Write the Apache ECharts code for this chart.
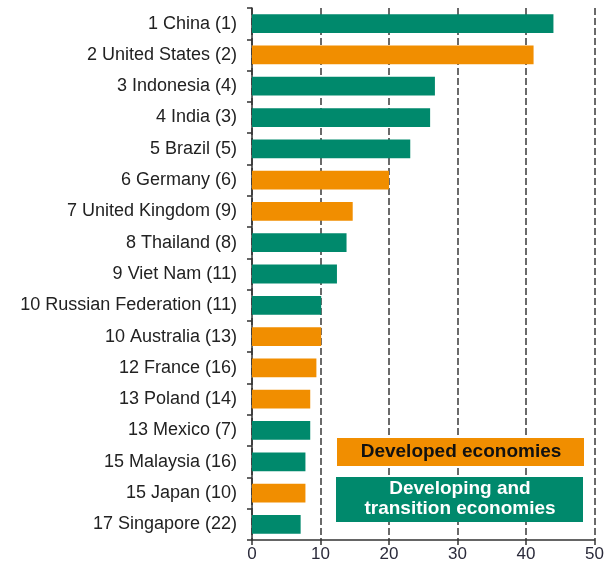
<!DOCTYPE html>
<html lang="en">
<head>
    <meta charset="UTF-8">
    <title>Chart</title>
    <style>
        html, body { margin: 0; padding: 0; background: #fff; }
        #main { width: 607px; height: 568px; }
    </style>
    <script src="https://cdn.jsdelivr.net/npm/echarts@6/dist/echarts.min.js"></script>
</head>
<body>
    <div id="main"></div>
    <script type="text/javascript">
        var categories = [
            '1 China (1)', '2 United States (2)', '3 Indonesia (4)', '4 India (3)',
            '5 Brazil (5)', '6 Germany (6)', '7 United Kingdom (9)', '8 Thailand (8)',
            '9 Viet Nam (11)', '10 Russian Federation (11)', '10 Australia (13)',
            '12 France (16)', '13 Poland (14)', '13 Mexico (7)', '15 Malaysia (16)',
            '15 Japan (10)', '17 Singapore (22)'
        ];
        var values = [44.0, 41.1, 26.7, 26.0, 23.1, 20.0, 14.7, 13.8, 12.4, 10.1, 10.1, 9.4, 8.5, 8.5, 7.8, 7.8, 7.1];
        // 'dev' = developed, 'dvt' = developing and transition
        var groups = ['dvt', 'dev', 'dvt', 'dvt', 'dvt', 'dev', 'dev', 'dvt', 'dvt', 'dvt', 'dev', 'dev', 'dev', 'dvt', 'dvt', 'dev', 'dvt'];
        var xTicks = [0, 10, 20, 30, 40, 50];

        var ORANGE = '#F18E00';
        var GREEN = '#00896C';
        var FONT = 'Liberation Sans, Arial, sans-serif';

        var chart = echarts.init(document.getElementById('main'));

        var barData = values.map(function (v, i) {
            return { value: v, itemStyle: { color: groups[i] === 'dev' ? ORANGE : GREEN } };
        });

        var option = {
            animation: false,
            textStyle: { fontFamily: FONT },
            grid: { left: 252, right: 12, top: 8, bottom: 28, containLabel: false },
            xAxis: {
                type: 'value',
                min: xTicks[0],
                max: xTicks[xTicks.length - 1],
                interval: 10,
                axisLine: { show: true, lineStyle: { color: '#333', width: 1.5 } },
                axisTick: { show: true, length: 5, lineStyle: { color: '#333', width: 1.5 } },
                axisLabel: { color: '#2a2a3a', fontSize: 17, margin: 6 },
                splitLine: { show: true, lineStyle: { color: '#3a3a3a', width: 1.5, type: [7, 3] } }
            },
            yAxis: {
                type: 'category',
                inverse: true,
                data: categories,
                axisLine: { show: true, lineStyle: { color: '#333', width: 1.5 } },
                axisTick: { show: true, length: 5, lineStyle: { color: '#333', width: 1.5 } },
                axisLabel: { color: '#222', fontSize: 18, margin: 15 },
                splitLine: { show: false }
            },
            series: [{
                type: 'bar',
                data: barData,
                barCategoryGap: '40%'
            }],
            graphic: [
                { type: 'rect', left: 337, top: 438, z: 100, shape: { width: 247, height: 28 }, style: { fill: ORANGE } },
                { type: 'text', x: 461, y: 452, z: 101, style: { text: 'Developed economies', fill: '#111', font: 'bold 19px ' + FONT, align: 'center', verticalAlign: 'middle' } },
                { type: 'rect', left: 336, top: 477, z: 100, shape: { width: 247, height: 45 }, style: { fill: GREEN } },
                { type: 'text', x: 460, y: 499, z: 101, style: { text: 'Developing and\ntransition economies', fill: '#fff', font: 'bold 19px ' + FONT, lineHeight: 20, align: 'center', verticalAlign: 'middle' } }
            ]
        };

        chart.setOption(option);
    </script>
</body>
</html>
